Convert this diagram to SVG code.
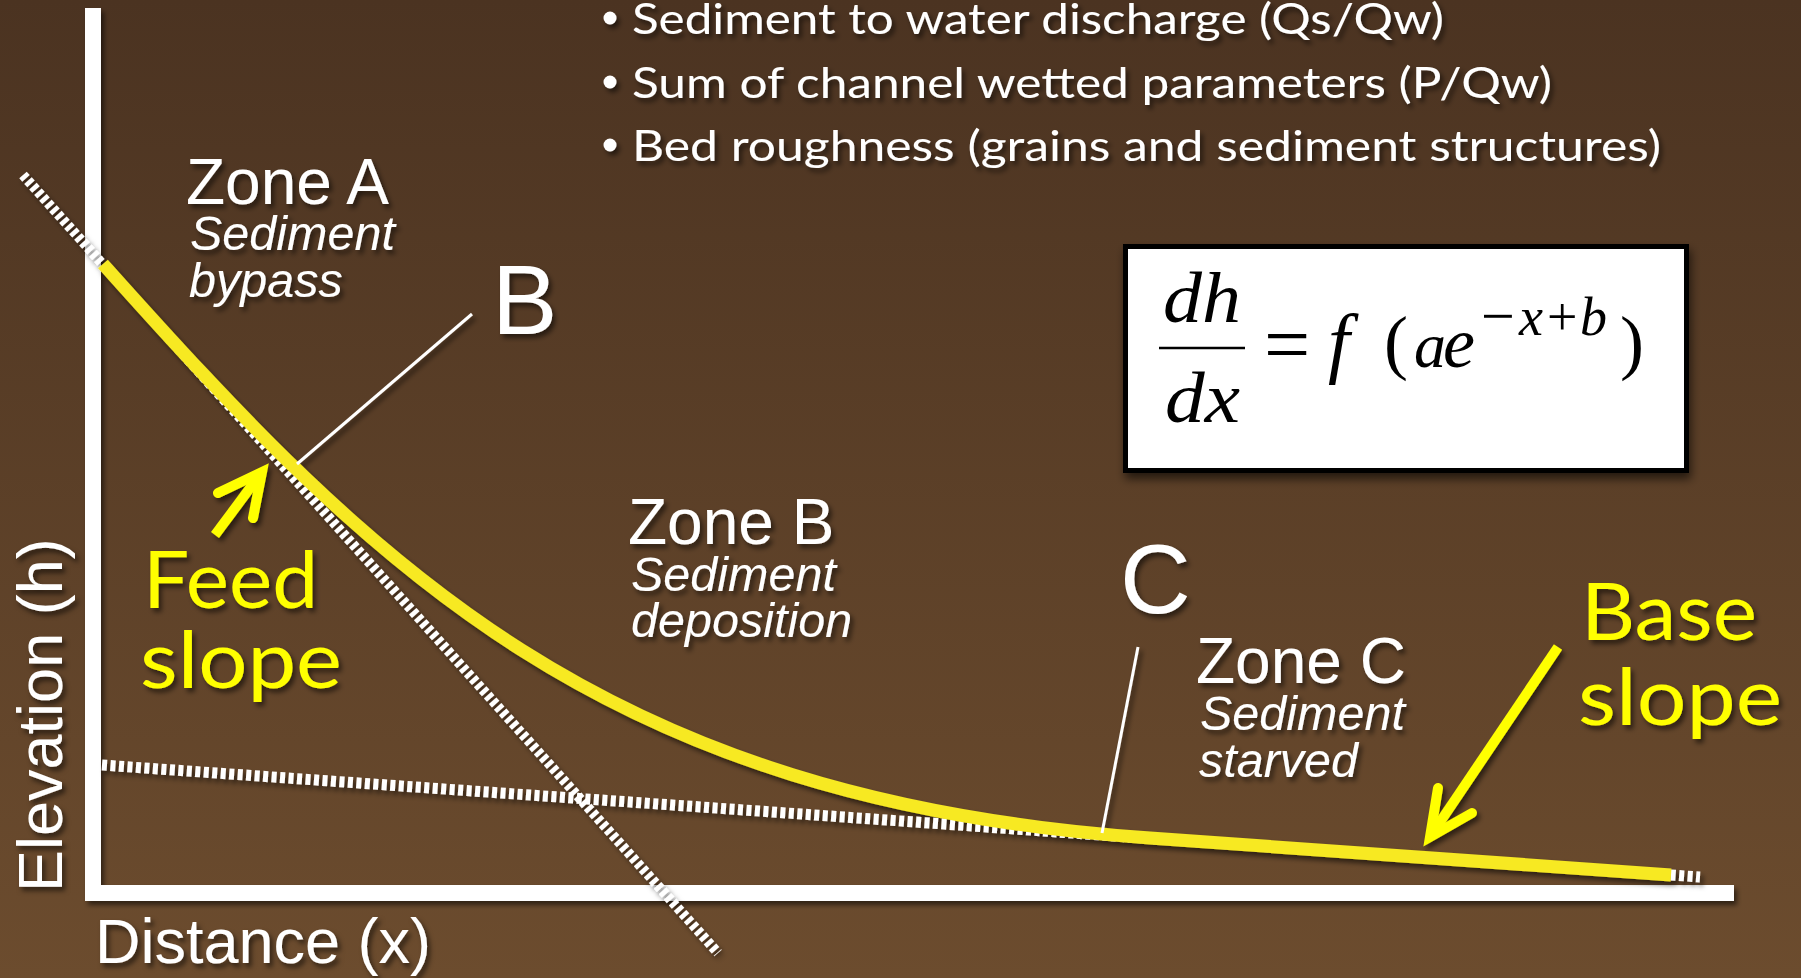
<svg xmlns="http://www.w3.org/2000/svg" width="1801" height="978" viewBox="0 0 1801 978">
<defs>
<linearGradient id="bg" x1="0" y1="0" x2="0" y2="1">
<stop offset="0" stop-color="#4b3321"/>
<stop offset="1" stop-color="#6c4c2e"/>
</linearGradient>
<filter id="sh" filterUnits="userSpaceOnUse" x="0" y="0" width="1801" height="978">
<feDropShadow dx="3" dy="4" stdDeviation="2.5" flood-color="#000" flood-opacity="0.55"/>
</filter>
<filter id="shbox" filterUnits="userSpaceOnUse" x="0" y="0" width="1801" height="978">
<feDropShadow dx="2" dy="6" stdDeviation="5" flood-color="#000" flood-opacity="0.6"/>
</filter>
<style>
.ar{font-family:"Liberation Sans",Arial,sans-serif;fill:#fff}
.zone{font-size:64px}
.sub{font-size:48.5px;font-style:italic}
.big{font-size:98px}
.cal{font-family:Lato,"Open Sans",sans-serif}
.bul{font-size:42px;fill:#fff}
.yl{font-size:80px;fill:#ffff00}
.eq{font-family:"Liberation Serif","Times New Roman",serif;fill:#000}
.it{font-style:italic}
.dash1{fill:none;stroke:#fff;stroke-width:10;stroke-dasharray:4.5 3}
.dash2{fill:none;stroke:#fff;stroke-width:11;stroke-dasharray:5 3.5}
.ptr{stroke:#fff;stroke-width:3;fill:none}
.arrow{fill:none;stroke:#ffff00;stroke-width:10;stroke-linejoin:miter}
</style>
</defs>
<rect x="0" y="0" width="1801" height="978" fill="url(#bg)"/>

<g id="axes" filter="url(#sh)">
<rect x="85" y="8" width="16" height="892" fill="#fff"/>
<rect x="85" y="885" width="1649" height="16" fill="#fff"/>
</g>

<g id="connectors" filter="url(#sh)">
<line class="dash1" x1="23" y1="175" x2="718" y2="953"/>
<line class="dash2" x1="102" y1="765" x2="1700" y2="877"/>
<path id="profile" d="M103,264 C373,566 600,800 1150,838 L1671,875" fill="none" stroke="#f7e923" stroke-width="13"/>
<line class="ptr" x1="472" y1="314" x2="297" y2="464"/>
<line class="ptr" x1="1138" y1="647" x2="1102" y2="833"/>
<path class="arrow" d="M215,535 L262,472"/>
<path class="arrow" d="M218,493 L262,472 L253,518" stroke-linecap="round"/>
<path class="arrow" d="M1558,647 L1430,837"/>
<path class="arrow" d="M1438,788 L1430,837 L1472,813" stroke-linecap="round"/>
</g>

<g id="bullets" filter="url(#sh)">
<circle cx="610" cy="18" r="6.5" fill="#fff"/>
<circle cx="610" cy="82" r="6.5" fill="#fff"/>
<circle cx="610" cy="145" r="6.5" fill="#fff"/>
<text class="cal bul" x="632" y="34" textLength="812" lengthAdjust="spacingAndGlyphs">Sediment to water discharge (Qs/Qw)</text>
<text class="cal bul" x="632" y="98" textLength="920" lengthAdjust="spacingAndGlyphs">Sum of channel wetted parameters (P/Qw)</text>
<text class="cal bul" x="632" y="161" textLength="1029" lengthAdjust="spacingAndGlyphs">Bed roughness (grains and sediment structures)</text>
</g>

<g id="zoneA" filter="url(#sh)">
<text class="ar zone" x="186" y="204">Zone A</text>
<text class="ar sub" x="190" y="250">Sediment</text>
<text class="ar sub" x="189" y="297">bypass</text>
</g>

<g id="zoneB" filter="url(#sh)">
<text class="ar zone" x="628" y="544">Zone B</text>
<text class="ar sub" x="631" y="591">Sediment</text>
<text class="ar sub" x="631" y="637">deposition</text>
</g>

<g id="zoneC" filter="url(#sh)">
<text class="ar zone" x="1196" y="683">Zone C</text>
<text class="ar sub" x="1200" y="730">Sediment</text>
<text class="ar sub" x="1199" y="777">starved</text>
</g>

<g id="labelB" filter="url(#sh)">
<text class="ar big" x="492" y="334">B</text>
</g>
<g id="labelC" filter="url(#sh)">
<text class="ar big" x="1120" y="613">C</text>
</g>

<g id="feed" filter="url(#sh)">
<text class="cal yl" x="143" y="608" textLength="175" lengthAdjust="spacingAndGlyphs">Feed</text>
<text class="cal yl" x="140" y="688" textLength="202" lengthAdjust="spacingAndGlyphs">slope</text>
</g>

<g id="base" filter="url(#sh)">
<text class="cal yl" x="1581" y="640" textLength="176" lengthAdjust="spacingAndGlyphs">Base</text>
<text class="cal yl" x="1578" y="725" textLength="204" lengthAdjust="spacingAndGlyphs">slope</text>
</g>

<g id="axisLabels" filter="url(#sh)">
<text class="ar" font-size="63" transform="translate(62,892) rotate(-90)" x="0" y="0">Elevation (h)</text>
<text class="ar" font-size="63" x="95" y="963">Distance (x)</text>
</g>

<g id="equation">
<rect x="1125.5" y="246.5" width="561" height="224" fill="#fff" stroke="#000" stroke-width="5" filter="url(#shbox)"/>
<text class="eq it" x="1163" y="322" font-size="72" textLength="78" lengthAdjust="spacingAndGlyphs">dh</text>
<line x1="1159" y1="348" x2="1245" y2="348" stroke="#000" stroke-width="2.5"/>
<text class="eq it" x="1165" y="422" font-size="72" textLength="75" lengthAdjust="spacingAndGlyphs">dx</text>
<text class="eq" x="1264" y="372" font-size="82">=</text>
<text class="eq it" x="1328" y="368" font-size="78">f</text>
<text class="eq" x="1384" y="366" font-size="72">(</text>
<text class="eq it" x="1414" y="367" font-size="64">a</text>
<text class="eq it" x="1443" y="367" font-size="72">e</text>
<text class="eq" x="1481" y="336" font-size="60">−</text>
<text class="eq it" x="1519" y="335" font-size="54">x</text>
<text class="eq" x="1547" y="335" font-size="54">+</text>
<text class="eq it" x="1580" y="335" font-size="54">b</text>
<text class="eq" x="1620" y="366" font-size="72">)</text>
</g>
</svg>
